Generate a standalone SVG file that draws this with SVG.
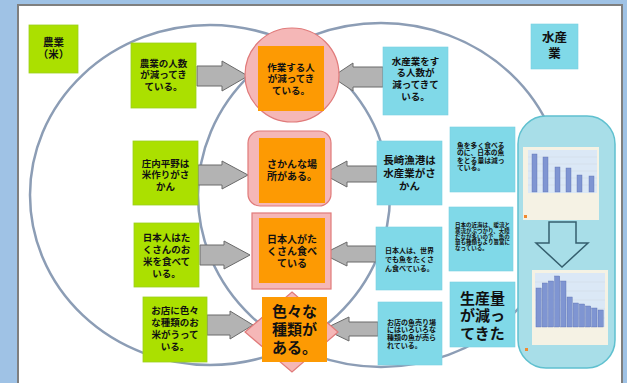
<svg xmlns="http://www.w3.org/2000/svg" width="627" height="383" viewBox="0 0 627 383">
<defs>
<style>
text{font-family:"Noto Sans CJK JP","Noto Sans CJK SC",sans-serif;font-weight:bold;fill:#111;}
.c{text-anchor:middle;}
.green{fill:#abe000;stroke:#9ccf20;stroke-width:0.8;}
.blue{fill:#80d9e8;stroke:#78d0e0;stroke-width:0.6;}
.orange{fill:#fd9a03;}
.pink{fill:#f5b7b7;stroke:#e07a7a;stroke-width:1.2;}
.arrow{fill:#b3b3b3;stroke:#6a6a6a;stroke-width:1;}
.venn{fill:none;stroke:#8c9db5;stroke-width:2.5;}
.bar{fill:#7f95d2;stroke:#5d70b0;stroke-width:0.4;}
.grid{stroke:#c9d3e0;stroke-width:0.4;}
</style>
</defs>
<rect x="0" y="0" width="627" height="383" fill="#9fc2e5"/>
<rect x="18" y="5" width="604" height="390" fill="#ffffff" stroke="#7f7f7f" stroke-width="2"/>

<g id="venn">
<ellipse class="venn" cx="210" cy="195" rx="180" ry="170"/>
<ellipse class="venn" cx="381" cy="195" rx="183" ry="172"/>
</g>

<g id="label-nogyo">
<rect class="green" x="29" y="25" width="49" height="48"/>
<text class="c" font-size="10.5"><tspan x="53.5" y="45.5">農業</tspan><tspan x="53.5" y="58">（米）</tspan></text>
</g>

<g id="label-suisan">
<rect class="blue" x="531" y="24" width="47" height="45"/>
<text class="c" font-size="12.5"><tspan x="554.5" y="42">水産</tspan><tspan x="554.5" y="58">業</tspan></text>
</g>

<g id="connectors">
<polygon class="arrow" points="197,66 222,66 222,61 248,76 222,91 222,86 197,86"/>
<polygon class="arrow" points="198,165 222,165 222,161 248,175 222,189 222,185 198,185"/>
<polygon class="arrow" points="200,245 224,245 224,241 250,255 224,269 224,265 200,265"/>
<polygon class="arrow" points="207,315 230,315 230,311 253,325 230,339 230,335 207,335"/>
<polygon class="arrow" points="383,67 353,67 353,63 332,77 353,91 353,87 383,87"/>
<polygon class="arrow" points="377,166 347,166 347,161 323,174 347,187 347,182 377,182"/>
<polygon class="arrow" points="376,246 347,246 347,242 323,254 347,266 347,262 376,262"/>
<polygon class="arrow" points="378,322 349,322 349,317 324,329 349,341 349,336 378,336"/>
</g>

<g id="center-1">
<circle class="pink" cx="292" cy="75" r="47"/>
<rect class="orange" x="258" y="46" width="66" height="65"/>
<text class="c" font-size="9.5"><tspan x="291" y="70.5">作業する人</tspan><tspan x="291" y="82">が減ってき</tspan><tspan x="291" y="93.5">ている。</tspan></text>
</g>

<g id="center-2">
<rect class="pink" x="248" y="131" width="83" height="75" rx="12"/>
<rect class="orange" x="259" y="138" width="66" height="65"/>
<text class="c" font-size="10"><tspan x="292" y="167.5">さかんな場</tspan><tspan x="292" y="179.5">所がある。</tspan></text>
</g>

<g id="center-3">
<rect class="pink" x="252" y="213" width="79" height="76"/>
<rect class="orange" x="259" y="218" width="66" height="65"/>
<text class="c" font-size="10"><tspan x="292" y="242.5">日本人がた</tspan><tspan x="292" y="254.5">くさん食べ</tspan><tspan x="292" y="266.5">ている</tspan></text>
</g>

<g id="center-4">
<polygon class="pink" points="292,292 338,332 292,372 245,332"/>
<rect class="orange" x="262" y="297" width="65" height="65"/>
<text class="c" font-size="15"><tspan x="294.5" y="317">色々な</tspan><tspan x="294.5" y="335">種類が</tspan><tspan x="294.5" y="353">ある。</tspan></text>
</g>

<g id="green-1">
<rect class="green" x="131" y="43" width="65" height="65"/>
<text class="c" font-size="9.5"><tspan x="163.5" y="66.5">農業の人数</tspan><tspan x="163.5" y="78">が減ってき</tspan><tspan x="163.5" y="89.5">ている。</tspan></text>
</g>

<g id="green-2">
<rect class="green" x="133" y="141" width="65" height="64"/>
<text class="c" font-size="9.5"><tspan x="165.5" y="166.5">庄内平野は</tspan><tspan x="165.5" y="178">米作りがさ</tspan><tspan x="165.5" y="189.5">かん</tspan></text>
</g>

<g id="green-3">
<rect class="green" x="134" y="223" width="65" height="64"/>
<text class="c" font-size="9.5"><tspan x="166.5" y="240.5">日本人はた</tspan><tspan x="166.5" y="252.5">くさんのお</tspan><tspan x="166.5" y="265">米を食べて</tspan><tspan x="166.5" y="277">いる。</tspan></text>
</g>

<g id="green-4">
<rect class="green" x="143" y="297" width="64" height="65"/>
<text class="c" font-size="9.5"><tspan x="175" y="313.5">お店に色々</tspan><tspan x="175" y="325.5">な種類のお</tspan><tspan x="175" y="337.5">米がうって</tspan><tspan x="175" y="350">いる。</tspan></text>
</g>

<g id="blue-1">
<rect class="blue" x="383" y="47" width="65" height="68"/>
<text class="c" font-size="9.5"><tspan x="415.5" y="64.5">水産業をす</tspan><tspan x="415.5" y="75.5">る人数が</tspan><tspan x="415.5" y="87.5">減ってきて</tspan><tspan x="415.5" y="99.5">いる。</tspan></text>
</g>

<g id="blue-2">
<rect class="blue" x="377" y="141" width="65" height="64"/>
<text class="c" font-size="10.5"><tspan x="409.5" y="164">長崎漁港は</tspan><tspan x="409.5" y="177">水産業がさ</tspan><tspan x="409.5" y="189.5">かん</tspan></text>
</g>

<g id="blue-3">
<rect class="blue" x="376" y="227" width="66" height="63"/>
<text font-size="7"><tspan x="385" y="252.5">日本人は、世界</tspan><tspan x="385" y="261.5">でも魚をたくさ</tspan><tspan x="385" y="270.5">ん食べている。</tspan></text>
</g>

<g id="blue-4">
<rect class="blue" x="378" y="302" width="64" height="63"/>
<text font-size="7"><tspan x="387" y="324.5">お店の魚売り場</tspan><tspan x="387" y="332.3">にはいろいろな</tspan><tspan x="387" y="340">種類の魚が売ら</tspan><tspan x="387" y="347.8">れている。</tspan></text>
</g>

<g id="blue-a">
<rect class="blue" x="450" y="127" width="65" height="65"/>
<text font-size="6.8"><tspan x="457" y="147.5">魚を多く食べる</tspan><tspan x="457" y="155">のに、日本の魚</tspan><tspan x="457" y="162.5">をとる量は減っ</tspan><tspan x="457" y="170">ている。</tspan></text>
</g>

<g id="blue-b">
<rect class="blue" x="449" y="207" width="64" height="64"/>
<text font-size="5.5"><tspan x="455" y="227">日本の近海は、暖流と</tspan><tspan x="455" y="232.8">寒流がぶつかり、大陸</tspan><tspan x="455" y="238.6">だなが多いので、魚の</tspan><tspan x="455" y="244.4">量も種類もより豊富に</tspan><tspan x="455" y="250.2">なっている。</tspan></text>
</g>

<g id="blue-c">
<rect class="blue" x="450" y="282" width="65" height="65"/>
<text class="c" font-size="15"><tspan x="482.5" y="303.5">生産量</tspan><tspan x="482.5" y="321">が減っ</tspan><tspan x="482.5" y="338.5">てきた</tspan></text>
</g>

<g id="chart-panel">
<rect x="518" y="116" width="97" height="252" rx="28" fill="#a8dee8" stroke="#5fc0cf" stroke-width="1.5"/>
<g id="chart-1">
<rect x="523" y="147" width="76" height="73" fill="#f5f2e4"/>
<rect x="528" y="150" width="69" height="43" fill="#dbe8f6"/>
<line class="grid" x1="528" y1="157" x2="597" y2="157"/>
<line class="grid" x1="528" y1="164" x2="597" y2="164"/>
<line class="grid" x1="528" y1="171" x2="597" y2="171"/>
<line class="grid" x1="528" y1="178" x2="597" y2="178"/>
<line class="grid" x1="528" y1="185" x2="597" y2="185"/>
<rect class="bar" x="532" y="154" width="5" height="38"/>
<rect class="bar" x="543" y="157" width="5" height="35"/>
<rect class="bar" x="555" y="167" width="5" height="25"/>
<rect class="bar" x="566" y="168" width="5" height="24"/>
<rect class="bar" x="577" y="175" width="5" height="17"/>
<rect class="bar" x="589" y="176" width="5" height="16"/>
<rect x="524" y="215" width="3" height="3" fill="#f08a30"/>
</g>
<polygon points="549,222 576,222 576,243 588,243 562,267 536,243 549,243" fill="#a8dee8" stroke="#355f6e" stroke-width="1.5"/>
<g id="chart-2">
<rect x="532" y="270" width="76" height="75" fill="#f5f2e4"/>
<rect x="535" y="273" width="70" height="54" fill="#dbe8f6"/>
<line class="grid" x1="535" y1="282" x2="605" y2="282"/>
<line class="grid" x1="535" y1="291" x2="605" y2="291"/>
<line class="grid" x1="535" y1="300" x2="605" y2="300"/>
<line class="grid" x1="535" y1="309" x2="605" y2="309"/>
<line class="grid" x1="535" y1="318" x2="605" y2="318"/>
<rect class="bar" x="536" y="288" width="5.2" height="39"/>
<rect class="bar" x="542.2" y="283" width="5.2" height="44"/>
<rect class="bar" x="548.4" y="281" width="5.2" height="46"/>
<rect class="bar" x="554.6" y="276" width="5.2" height="51"/>
<rect class="bar" x="560.8" y="281" width="5.2" height="46"/>
<rect class="bar" x="567" y="297" width="5.2" height="30"/>
<rect class="bar" x="573.2" y="303" width="5.2" height="24"/>
<rect class="bar" x="579.4" y="304" width="5.2" height="23"/>
<rect class="bar" x="585.6" y="306" width="5.2" height="21"/>
<rect class="bar" x="591.8" y="308" width="5.2" height="19"/>
<rect class="bar" x="598" y="310" width="5.2" height="17"/>
<rect x="525" y="348" width="3" height="3" fill="#f08a30"/>
</g>
</g>
</svg>
